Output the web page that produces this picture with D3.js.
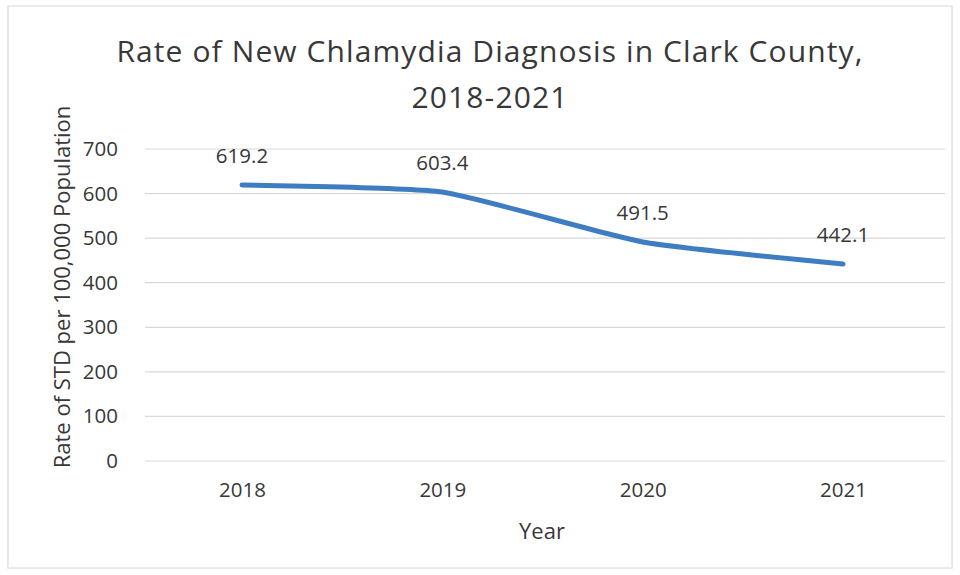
<!DOCTYPE html>
<html>
<head>
<meta charset="utf-8">
<script src="https://cdn.jsdelivr.net/npm/d3@7"></script>
<style>
  body { margin: 0; background: #fff; }
  text { font-family: 'Open Sans', 'Noto Sans', sans-serif; fill: #383838; }
</style>
</head>
<body>
<svg id="chart" width="960" height="575"></svg>
<script>
const years = ['2018', '2019', '2020', '2021']
const rates = [619.2, 603.4, 491.5, 442.1]
const yTicks = [0, 100, 200, 300, 400, 500, 600, 700]

const margin = { top: 149, left: 145, right: 15, bottom: 114 }
const width = 960 - margin.left - margin.right
const height = 575 - margin.top - margin.bottom

const svg = d3.select('#chart')

// light frame around the chart area
svg.append('rect')
  .attr('x', 8).attr('y', 6)
  .attr('width', 944).attr('height', 562)
  .attr('fill', 'none')
  .attr('stroke', '#e4e4e4')
  .attr('stroke-width', 1.5)

const g = svg.append('g')
  .attr('transform', 'translate(' + margin.left + ',' + margin.top + ')')

const xScale = d3.scalePoint().domain(years).range([97, 698])
const yScale = d3.scaleLinear().domain([0, 700]).range([height, 0])

// gridlines
g.selectAll('.grid')
  .data(yTicks)
  .enter()
  .append('line')
  .attr('class', 'grid')
  .attr('x1', 0)
  .attr('x2', width)
  .attr('y1', d => yScale(d))
  .attr('y2', d => yScale(d))
  .attr('stroke', '#d9d9d9')
  .attr('stroke-width', 1.2)

// y axis labels
const yAxis = d3.axisLeft(yScale).tickValues(yTicks).tickSize(0).tickPadding(27)
g.append('g').call(yAxis)
  .call(a => a.select('.domain').remove())
  .selectAll('text')
  .attr('font-size', 20.5)
  .attr('fill', '#383838')
  .style('font-family', "'Open Sans', sans-serif")

// x axis labels
const xAxis = d3.axisBottom(xScale).tickSize(0).tickPadding(21)
g.append('g')
  .attr('transform', 'translate(0,' + height + ')')
  .call(xAxis)
  .call(a => a.select('.domain').remove())
  .selectAll('text')
  .attr('font-size', 20.5)
  .attr('fill', '#383838')
  .style('font-family', "'Open Sans', sans-serif")

// the line, lightly smoothed
const line = d3.line()
  .x((d, i) => xScale(years[i]))
  .y(d => yScale(d))
  .curve(d3.curveCardinal.tension(0.5))

g.append('path')
  .datum(rates)
  .attr('d', line)
  .attr('fill', 'none')
  .attr('stroke', '#3f7dc3')
  .attr('stroke-width', 5)
  .attr('stroke-linecap', 'round')

// data labels
g.selectAll('.label')
  .data(rates)
  .enter()
  .append('text')
  .attr('class', 'label')
  .text(d => d.toFixed(1))
  .attr('x', (d, i) => xScale(years[i]))
  .attr('y', d => yScale(d) - 22)
  .attr('text-anchor', 'middle')
  .attr('font-size', 20.5)

// titles
svg.append('text')
  .text('Rate of New Chlamydia Diagnosis in Clark County,')
  .attr('x', 490).attr('y', 62)
  .attr('text-anchor', 'middle')
  .attr('font-size', 30)
  .attr('letter-spacing', 1.1)

svg.append('text')
  .text('2018-2021')
  .attr('x', 490).attr('y', 108)
  .attr('text-anchor', 'middle')
  .attr('font-size', 30)
  .attr('letter-spacing', 1.1)

svg.append('text')
  .text('Rate of STD per 100,000 Population')
  .attr('transform', 'translate(70,287) rotate(-90)')
  .attr('text-anchor', 'middle')
  .attr('font-size', 22)

svg.append('text')
  .text('Year')
  .attr('x', 542).attr('y', 539)
  .attr('text-anchor', 'middle')
  .attr('font-size', 22)
</script>
</body>
</html>
